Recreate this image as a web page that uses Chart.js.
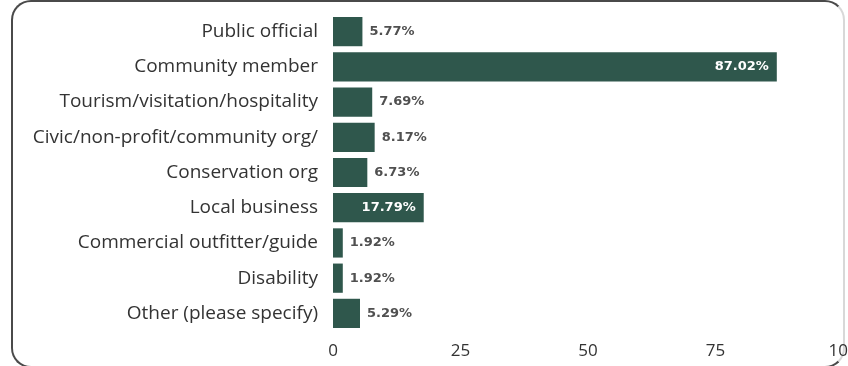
<!DOCTYPE html>
<html>
<head>
    <meta charset="utf-8"/>
    <title></title>
    <style>
        html, body { margin: 0; padding: 0; background: #fff; overflow: hidden; }
        body { width: 848px; height: 366px; position: relative; }
        .frame {
            position: absolute; left: 11px; top: 0px; width: 834px; height: 368px;
            border: 2px solid #4a4a4a; border-right-color: #d8d8d8; border-radius: 20px; box-sizing: border-box;
        }
        .chart { position: absolute; left: 0; top: 0; width: 880px; height: 366px; }
    </style>
</head>
<body>
<div class="frame"></div>
<div class="chart">
    <canvas id="bar"></canvas>
</div>

<script src="https://cdn.jsdelivr.net/npm/chart.js@4/dist/chart.umd.min.js"></script>
<script>
    var categories = [
        "Public official",
        "Community member",
        "Tourism/visitation/hospitality",
        "Civic/non-profit/community org/",
        "Conservation org",
        "Local business",
        "Commercial outfitter/guide",
        "Disability",
        "Other (please specify)"
    ];
    var percents = [5.77, 87.02, 7.69, 8.17, 6.73, 17.79, 1.92, 1.92, 5.29];
    var xTicks = [0, 25, 50, 75, 100];

    var barColor = '#2f574c';

    // value labels: inside the bar when it is long, otherwise just after it
    var valueLabels = {
        id: 'valueLabels',
        afterDatasetsDraw: function (chart) {
            var ctx = chart.ctx;
            var meta = chart.getDatasetMeta(0);
            ctx.save();
            ctx.font = 'bold 13px "DejaVu Sans"';
            ctx.textBaseline = 'middle';
            meta.data.forEach(function (bar, i) {
                var txt = percents[i].toFixed(2) + '%';
                if (percents[i] > 15) {
                    ctx.fillStyle = '#ffffff';
                    ctx.textAlign = 'right';
                    ctx.fillText(txt, bar.x - 8, bar.y);
                } else {
                    ctx.fillStyle = '#505050';
                    ctx.textAlign = 'left';
                    ctx.fillText(txt, bar.x + 7, bar.y);
                }
            });
            ctx.restore();
        }
    };

    var ctx = document.getElementById('bar').getContext('2d');
    var bar = new Chart(ctx, {
        type: 'bar',
        data: {
            labels: categories,
            datasets: [
                {
                    data: percents,
                    backgroundColor: barColor,
                    borderWidth: 0,
                    categoryPercentage: 1,
                    barPercentage: 0.83
                }
            ]
        },
        options: {
            indexAxis: 'y',
            responsive: true,
            maintainAspectRatio: false,
            animation: false,
            layout: { padding: { top: 14, right: 37, bottom: 0, left: 0 } },
            plugins: {
                legend: { display: false },
                tooltip: { enabled: false }
            },
            scales: {
                x: {
                    min: 0,
                    max: 100,
                    afterBuildTicks: function (axis) {
                        axis.ticks = xTicks.map(function (v) { return { value: v }; });
                    },
                    afterFit: function (axis) {
                        axis.height = 35;
                        axis.paddingLeft = 0;
                        axis.paddingRight = 0;
                    },
                    grid: { display: false, drawTicks: false },
                    border: { display: false },
                    ticks: {
                        padding: 10,
                        color: '#333333',
                        font: { family: 'Open Sans', size: 17 },
                        maxRotation: 0
                    }
                },
                y: {
                    afterFit: function (axis) {
                        axis.width = 333;
                        axis.paddingTop = 0;
                        axis.paddingBottom = 0;
                    },
                    grid: { display: false, drawTicks: false },
                    border: { display: false },
                    ticks: {
                        padding: 15,
                        color: '#333333',
                        font: { family: 'Open Sans', size: 19 }
                    }
                }
            }
        },
        plugins: [valueLabels]
    });
</script>
</body>
</html>
